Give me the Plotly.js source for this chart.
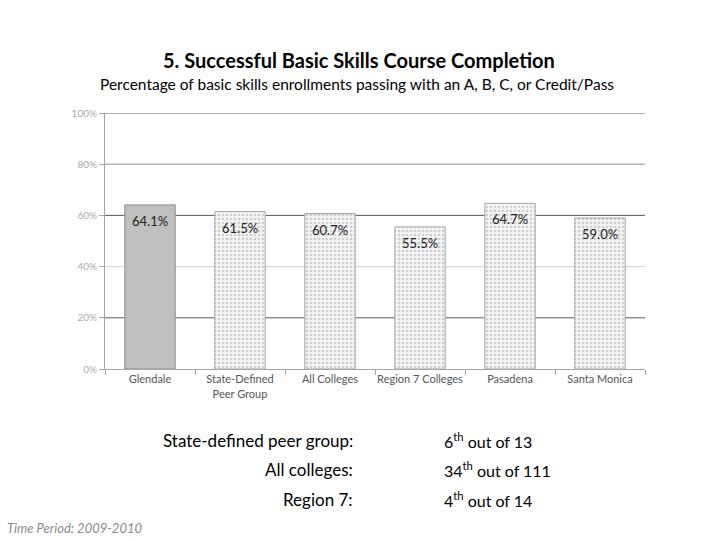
<!DOCTYPE html>
<html>
<head>
<meta charset="utf-8">
<script src="https://cdn.plot.ly/plotly-3.0.1.min.js"></script>
<style>
  body { margin: 0; background: #fff; }
  #chart { width: 720px; height: 540px; }
</style>
</head>
<body>
<div id="chart"></div>
<script>
// chart data
const categories = ['Glendale', 'State-Defined<br>Peer Group', 'All Colleges', 'Region 7 Colleges', 'Pasadena', 'Santa Monica'];
const values = [64.1, 61.5, 60.7, 55.5, 64.7, 59.0];
const yTicks = [0, 20, 40, 60, 80, 100];

// ranking text under the chart
const rankLabels = ['State-defined peer group:', 'All colleges:', 'Region 7:'];
const rankPlaces = ['6', '34', '4'];
const rankTotals = ['13', '111', '14'];

// gridlines in the scan are drawn in three shades
const darkGrid = [20, 60, 100];
const midGrid = [80];
const lightGrid = [40];

const FONT = 'Lato, "Open Sans", sans-serif';

const glendale = {
    x: categories.slice(0, 1),
    y: values.slice(0, 1),
    type: 'bar',
    width: 0.56,
    marker: { color: '#bfbfbf', line: { color: '#8c8c8c', width: 1 } },
    hoverinfo: 'skip'
};

const others = {
    x: categories.slice(1),
    y: values.slice(1),
    type: 'bar',
    width: 0.56,
    marker: {
        color: '#f2f2f2',
        line: { color: '#a6a6a6', width: 1 },
        pattern: { shape: '.', fgcolor: '#cfcfcf', bgcolor: '#f4f4f4', size: 4, solidity: 0.35 }
    },
    hoverinfo: 'skip'
};

// grid lines as shapes
const shapes = [];
function addGrid(list, color) {
    list.forEach(function(v) {
        shapes.push({
            type: 'line', xref: 'paper', yref: 'y', x0: 0, x1: 1, y0: v, y1: v,
            line: { color: color, width: 1 }, layer: 'below'
        });
    });
}
addGrid(lightGrid, '#d0d0d0');
addGrid(midGrid, '#8a8a8a');
addGrid(darkGrid, '#5a5a5a');

// value labels inside the bars
const annotations = values.map(function(v, i) {
    return {
        x: categories[i], y: v, xref: 'x', yref: 'y',
        text: v.toFixed(1) + '%', showarrow: false,
        yanchor: 'top', yshift: -6,
        font: { family: FONT, size: 13, color: '#222' }
    };
});

// title and subtitle
annotations.push({
    xref: 'paper', yref: 'paper', x: 0.5, y: 1, yshift: 67, xanchor: 'center',
    text: '<b>5. Successful Basic Skills Course Completion</b>', showarrow: false,
    xshift: -16,
    font: { family: FONT, size: 20, color: '#000' }
});
annotations.push({
    xref: 'paper', yref: 'paper', x: 0.5, y: 1, yshift: 40, xanchor: 'center',
    text: 'Percentage of basic skills enrollments passing with an A, B, C, or Credit/Pass', showarrow: false,
    xshift: -18,
    font: { family: FONT, size: 15.5, color: '#000' }
});

// ranks block
rankLabels.forEach(function(label, i) {
    annotations.push({
        xref: 'paper', yref: 'paper', x: (355 - 105) / 540, y: 0, yshift: -71 - 29.5 * i,
        xanchor: 'right', yanchor: 'middle', showarrow: false, text: label,
        font: { family: FONT, size: 17, color: '#000' }
    });
    annotations.push({
        xref: 'paper', yref: 'paper', x: (442 - 105) / 540, y: 0, yshift: -71 - 29.5 * i,
        xanchor: 'left', yanchor: 'middle', showarrow: false,
        text: rankPlaces[i] + '<sup>th</sup> out of ' + rankTotals[i],
        font: { family: FONT, size: 16, color: '#000' }
    });
});

annotations.push({
    xref: 'paper', yref: 'paper', x: -100 / 540, y: 0, yshift: -159,
    xanchor: 'left', yanchor: 'middle', showarrow: false,
    text: '<i>Time Period: 2009-2010</i>',
    font: { family: FONT, size: 13, color: '#8a8a8a' }
});

const layout = {
    width: 720,
    height: 540,
    margin: { l: 105, r: 75, t: 113, b: 171 },
    paper_bgcolor: '#fff',
    plot_bgcolor: '#fff',
    showlegend: false,
    bargap: 0.44,
    font: { family: FONT },
    xaxis: {
        type: 'category',
        showline: true, linecolor: '#a6a6a6', linewidth: 1,
        ticks: 'outside', tickson: 'boundaries', ticklen: 5, tickcolor: '#a6a6a6',
        tickangle: 0,
        tickfont: { family: FONT, size: 11, color: '#555' },
        showgrid: false,
        fixedrange: true
    },
    yaxis: {
        range: [0, 100],
        tickvals: yTicks,
        ticktext: yTicks.map(function(t) { return t + '%'; }),
        showline: true, linecolor: '#a6a6a6', linewidth: 1,
        ticks: 'outside', ticklen: 5, tickcolor: '#a6a6a6',
        tickfont: { family: FONT, size: 10, color: '#aaa' },
        showgrid: false, zeroline: false,
        fixedrange: true
    },
    shapes: shapes,
    annotations: annotations
};

Plotly.newPlot('chart', [glendale, others], layout, { displayModeBar: false, staticPlot: true });
</script>
</body>
</html>
